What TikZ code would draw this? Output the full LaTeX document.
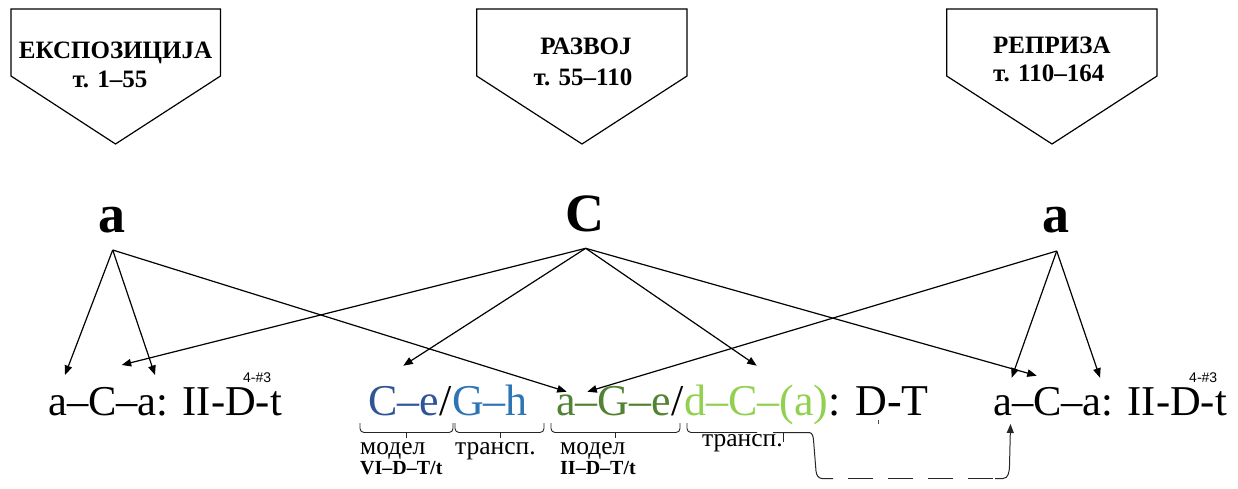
\documentclass[tikz,border=0pt]{standalone}
\usepackage{fontspec}
\setmainfont{Liberation Serif}
\newfontfamily\sansf{Liberation Sans}
\usetikzlibrary{arrows.meta}
\definecolor{dblue}{HTML}{2F5597}
\definecolor{lblue}{HTML}{2E75B6}
\definecolor{dgreen}{HTML}{548235}
\definecolor{lgreen}{HTML}{92D050}
\begin{document}
\begin{tikzpicture}[x=1pt,y=-1pt,
  penta/.style={draw=black, line width=1.2pt, line join=miter},
  ttl/.style={font=\fontsize{25}{30}\selectfont\bfseries, inner sep=0pt},
  big/.style={font=\fontsize{54}{60}\selectfont\bfseries, inner sep=0pt, anchor=base},
  row/.style={font=\fontsize{44}{50}\selectfont, inner sep=0pt, anchor=base west},
  siderow/.style={font=\fontsize{42.5}{50}\selectfont, inner sep=0pt, anchor=base west},
  supr/.style={font=\sansf\fontsize{14}{16}\selectfont, inner sep=0pt, anchor=base west},
  lbl/.style={font=\fontsize{25.5}{28}\selectfont, inner sep=0pt, anchor=base west},
  blbl/.style={font=\fontsize{20}{22}\selectfont\bfseries, inner sep=0pt, anchor=base west},
  arr/.style={-{Triangle[length=9.5pt,width=7.5pt]}, line width=1.2pt},
  brc/.style={line width=0.9pt, black!85, rounded corners=4pt},
  conn/.style={line width=1pt, black!85},
]
\useasboundingbox (0,0) rectangle (1238,489);
% pentagons
\draw[penta] (11,9) -- (220.5,9) -- (220.5,76) -- (115.5,144) -- (11,76) -- cycle;
\draw[penta] (476.7,9) -- (687,9) -- (687,76) -- (582,144) -- (476.7,76) -- cycle;
\draw[penta] (946.7,9) -- (1157,9) -- (1157,76) -- (1052,144) -- (946.7,76) -- cycle;
\node[ttl, anchor=base] (p1a) at (115.5,59) {ЕКСПОЗИЦИЈА};
\node[ttl, anchor=base] (p1b) at (110,88) {т. 1–55};
\node[ttl, anchor=base] (p2a) at (586,55) {РАЗВОЈ};
\node[ttl, anchor=base] (p2b) at (583,86) {т. 55–110};
\node[ttl, anchor=base west] (p3a) at (993,54) {РЕПРИЗА};
\node[ttl, anchor=base west] (p3b) at (993,82) {т. 110–164};
% big letters
\node[big] (A1) at (112,232) {a};
\node[big] (C0) at (585,231) {C};
\node[big] (A2) at (1056,232) {a};
\coordinate (aLs) at (112.7,250);
\coordinate (Cs) at (585.7,248.3);
\coordinate (aRs) at (1056.7,251);
% bottom row
\node[siderow] (L1) at (48,415) {a–C–a: II-D-t};
\node[supr] (L1s) at (243,382) {4-\#3};
\node[siderow] (R1) at (993,415) {a–C–a: II-D-t};
\node[supr] (R1s) at (1189,382) {4-\#3};
\node[row, text=dblue] (m1) at (368,415) {C–e};
\node[row] (m2) at (m1.base east) {/};
\node[row, text=lblue] (m3) at (m2.base east) {G–h};
\node[row, text=dgreen] (m4) at (556,415) {a–G–e};
\node[row] (m5) at (m4.base east) {/};
\node[row, text=lgreen] (m6) at (m5.base east) {d–C–(a)};
\node[row] (m7) at (m6.base east) {: D-T};
\draw[line width=0.6pt, black!70] (878,420) -- (878,424);
% targets
\coordinate (t1) at (65,375);
\coordinate (t2) at (155,375);
\coordinate (t3) at (121.7,365);
\coordinate (t4) at (566.7,391.7);
\coordinate (t5) at (403.3,365.7);
\coordinate (t6) at (756.7,365.7);
\coordinate (t7) at (1036.7,375.7);
\coordinate (t8) at (1011.7,377.7);
\coordinate (t9) at (1100,377.7);
\coordinate (t10) at (587.3,391.7);
\draw[arr] (aLs) -- (t1);
\draw[arr] (aLs) -- (t2);
\draw[arr] (aLs) -- (t4);
\draw[arr] (Cs) -- (t3);
\draw[arr] (Cs) -- (t5);
\draw[arr] (Cs) -- (t6);
\draw[arr] (Cs) -- (t7);
\draw[arr] (aRs) -- (t8);
\draw[arr] (aRs) -- (t9);
\draw[arr] (aRs) -- (t10);
% braces
\draw[brc] (360,423) |- (406.5,432.5) -| (453,423);
\draw[brc] (406.5,432.5) -- (406.5,438);
\draw[brc] (455,423) |- (500,432.5) -| (544,423);
\draw[brc] (500,432.5) -- (500,438);
\draw[brc] (551,423) |- (615,432.5) -| (680,423);
\draw[brc] (615,432.5) -- (615,438);
\draw[brc] (687,423) |- (757,432.5);
\draw[brc] (783,432.5) -- (783,442);
% labels
\node[lbl] (l1) at (360,454) {модел};
\node[blbl] (b1) at (360,474) {VI–D–T/t};
\node[lbl] (l2) at (455,454) {трансп.};
\node[lbl] (l3) at (560,454) {модел};
\node[blbl] (b3) at (560,474) {II–D–T/t};
\node[lbl] (l4) at (702,446) {трансп.};
% dashed connector
\coordinate (c0) at (773,432.5);
\coordinate (c1) at (833,478.5);
\coordinate (c2) at (995,478.5);
\coordinate (tR) at (1010.5,424);
\draw[conn] (c0) -- (809,432.5) to[out=0,in=95] (813.5,440) -- (816,471) to[out=-85,in=180] (822,478.5) -- (c1);
\draw[conn, dash pattern=on 25pt off 15pt] (848,478.5) -- (c2);
\draw[conn, -{Triangle[length=9pt,width=7pt]}] (c2) -- (1003,478.5) to[out=0,in=-92] (1009.5,466) -- (tR);
\end{tikzpicture}
\end{document}
